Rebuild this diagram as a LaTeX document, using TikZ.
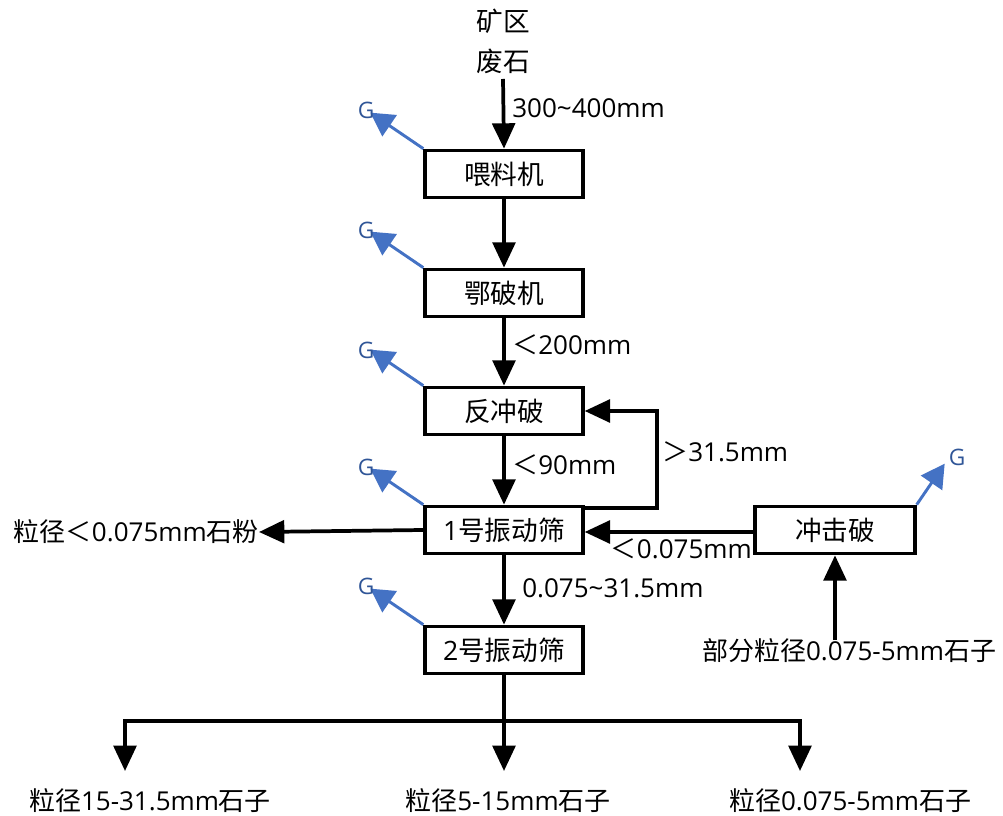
\documentclass[tikz,border=0pt]{standalone}
\usepackage{fontspec}
\setmainfont{Open Sans}
\newfontfamily\cjk{Noto Sans CJK SC}
\newcommand\zh[1]{{\cjk #1}}
\usetikzlibrary{arrows.meta,calc}
\definecolor{gblue}{HTML}{4472C4}
\definecolor{gtext}{HTML}{2F5597}
\tikzset{
  box/.style={draw, line width=2.5pt, minimum width=118.5pt, minimum height=35.5pt, inner sep=0pt, font=\fontsize{20}{23}\selectfont},
  lbl/.style={inner sep=0pt, font=\fontsize{19.5}{22}\selectfont},
  arr/.style={line width=2.8pt, -{Triangle[length=19pt,width=17pt]}},
  ln/.style={line width=2.8pt},
  garr/.style={gblue, line width=2.2pt, -{Triangle[length=17.5pt,width=19pt]}},
  gl/.style={gtext, inner sep=0pt, font=\fontsize{17}{20}\selectfont}
}
\begin{document}
\begin{tikzpicture}[x=0.75pt,y=-0.75pt]
\useasboundingbox (0,0) rectangle (1003,816);
% source
\node[lbl, align=center, font=\fontsize{20}{30}\selectfont\cjk] (src) at (503,41) {矿区\\废石};
% boxes
\node[box] (feed) at (504,174) {\zh{喂料机}};
\node[box] (jaw) at (504,293) {\zh{鄂破机}};
\node[box] (rev) at (504,411) {\zh{反冲破}};
\node[box] (s1) at (504,530) {1\zh{号振动筛}};
\node[box] (s2) at (504,650) {2\zh{号振动筛}};
\node[box, minimum width=120pt] (imp) at (835,530) {\zh{冲击破}};
% main flow
\draw[arr] ([yshift=-4pt]src.south) -- (feed.north);
\draw[arr] (feed.south) -- (jaw.north);
\draw[arr] (jaw.south) -- (rev.north);
\draw[arr] (rev.south) -- (s1.north);
\draw[arr] (s1.south) -- (s2.north);
% labels on flow
\node[lbl, anchor=west] (l1) at (512,108) {300\char"007E 400mm};
\node[lbl, anchor=west] (l2) at (512,345) {\zh{＜}200mm};
\node[lbl, anchor=west] (l3) at (512,465) {\zh{＜}90mm};
\node[lbl, anchor=west] (l4) at (522,588) {0.075\char"007E 31.5mm};
% feedback loop
\coordinate (fbx) at (657,470);
\draw[ln, -{Triangle[length=19pt,width=17pt]}] ([yshift=-2.5pt]s1.north east) -| (fbx|-rev.east) -- (rev.east);
\node[lbl, anchor=west] (l5) at (662,452) {\zh{＞}31.5mm};
% impact crusher return
\draw[arr] ([yshift=-1.5pt]imp.west) -- ([yshift=-1.5pt]imp.west -| s1.east);
\node[lbl, anchor=east] (l6) at (752,549) {\zh{＜}0.075mm};
% fines output
\node[lbl, anchor=east] (fines) at (259,532) {\zh{粒径＜}0.075mm\zh{石粉}};
\draw[arr] (s1.west) -- (fines.east);
% impact crusher input
\node[lbl] (stone) at (849,651) {\zh{部分粒径}0.075-5mm\zh{石子}};
\coordinate (sin) at (835,640);
\draw[arr] (sin) -- (imp.south);
% bottom distribution
\coordinate (j) at (504,721);
\coordinate (jl) at (125,721);
\coordinate (jr) at (800,721);
\draw[ln] (s2.south) -- (j);
\draw[ln, line cap=rect] (jl) -- (jr);
\node[lbl] (o1) at (150,801) {\zh{粒径}15-31.5mm\zh{石子}};
\node[lbl] (o2) at (508,801) {\zh{粒径}5-15mm\zh{石子}};
\node[lbl] (o3) at (850,801) {\zh{粒径}0.075-5mm\zh{石子}};
\coordinate (t1) at (125,771);
\coordinate (t2) at (504,771);
\coordinate (t3) at (800,771);
\draw[arr] (jl) -- (t1);
\draw[arr] (j) -- (t2);
\draw[arr] (jr) -- (t3);
% G emissions
\foreach \b/\gy in {feed/110, jaw/230, rev/350, s1/467, s2/586}{
  \draw[garr] (\b.north west) -- ++(-53,-36);
  \node[gl] at (366,\gy) {G};
}
\draw[garr] (imp.north east) -- ++(28,-41);
\node[gl] (gimp) at (957,457) {G};
\end{tikzpicture}
\end{document}
